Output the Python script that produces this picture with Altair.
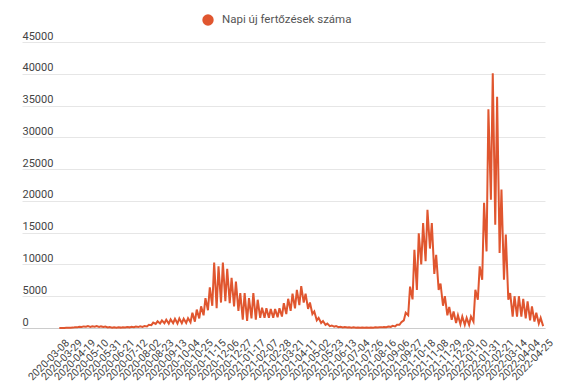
import altair as alt
import pandas as pd

START = "2020-03-08"
END = "2022-04-25"
SERIES = "Napi új fertőzések száma"
LINE_COLOR = "#e0562f"

# Weekly high / low of the daily counts (week k starts START + 7k)
weekly_high = [
    10, 30, 50, 100, 180, 250, 300, 280, 300, 250,
    220, 150, 120, 100, 120, 150, 180, 220, 280, 320,
    500, 850, 1050, 1200, 1300, 1350, 1450, 1500, 1450, 1550,
    2400, 2900, 3400, 4700, 6400, 10300, 9700, 10300, 9300, 7900,
    7300, 5500, 5500, 4700, 5500, 4450, 3200, 3100, 3000, 3000,
    3100, 3900, 4600, 5400, 6000, 6600, 5400, 4000, 2600, 1600,
    1100, 700, 400, 300, 200, 150, 120, 100, 80, 70,
    70, 80, 100, 130, 170, 230, 350, 500, 900, 2400,
    6500, 12300, 14900, 16500, 18600, 16500, 11500, 7000, 5000, 3300,
    2600, 2000, 1800, 1600, 1800, 6000, 9700, 19700, 34400, 40100,
    36400, 21800, 14700, 5500, 5000, 5000, 4600, 4200, 3400, 2400,
    1600,
]
weekly_low = [
    0, 10, 30, 60, 100, 150, 200, 180, 200, 150,
    150, 80, 60, 50, 60, 80, 100, 120, 150, 180,
    250, 450, 650, 700, 750, 700, 750, 700, 750, 800,
    900, 1000, 1500, 2000, 2800, 3500, 3100, 4000, 4200, 3900,
    3400, 2700, 1300, 1100, 1500, 1300, 1600, 1600, 1600, 1600,
    1700, 1800, 2200, 2700, 3100, 3600, 4000, 3000, 2200, 1200,
    800, 500, 300, 200, 120, 90, 70, 50, 40, 30,
    30, 40, 50, 70, 100, 130, 180, 250, 500, 1200,
    2000, 4500, 6000, 10000, 10500, 12500, 8500, 6000, 3500, 2000,
    1300, 800, 600, 500, 500, 1000, 4450, 7600, 12050, 20200,
    16250, 11800, 7600, 4450, 1800, 1800, 1800, 1500, 1200, 1000,
    700, 300,
]

tick_labels = [
    "2020-03-08", "2020-03-29", "2020-04-19", "2020-05-10", "2020-05-31",
    "2020-06-21", "2020-07-12", "2020-08-02", "2020-08-23", "2020-09-13",
    "2020-10-04", "2020-10-25", "2020-11-15", "2020-12-06", "2020-12-27",
    "2021-01-17", "2021-02-07", "2021-02-28", "2021-03-21", "2021-04-11",
    "2021-05-02", "2021-05-23", "2021-06-13", "2021-07-04", "2021-07-26",
    "2021-08-16", "2021-09-06", "2021-09-27", "2021-10-18", "2021-11-08",
    "2021-11-29", "2021-12-20", "2022-01-10", "2022-01-31", "2022-02-21",
    "2022-03-14", "2022-04-04", "2022-04-25",
]
y_ticks = [0, 5000, 10000, 15000, 20000, 25000, 30000, 35000, 40000, 45000]

start = pd.Timestamp(START)
end = pd.Timestamp(END)
rows = [{"date": start, "value": weekly_low[0], "series": SERIES}]
for k in range(len(weekly_low)):
    d_lo = start + pd.Timedelta(days=7 * k + 1)
    if d_lo <= end:
        rows.append({"date": d_lo, "value": weekly_low[k], "series": SERIES})
    if k < len(weekly_high):
        d_hi = start + pd.Timedelta(days=7 * k + 4)
        if d_hi <= end:
            rows.append({"date": d_hi, "value": weekly_high[k], "series": SERIES})
df = pd.DataFrame(rows)


def dt(s):
    t = pd.Timestamp(s)
    return alt.DateTime(year=t.year, month=t.month, date=t.day)


x_domain = [dt("2020-01-08"), dt("2022-04-28")]

chart = (
    alt.Chart(df)
    .mark_line(strokeWidth=2, interpolate="linear")
    .encode(
        x=alt.X(
            "date:T",
            scale=alt.Scale(domain=x_domain),
            axis=alt.Axis(
                values=[dt(s) for s in tick_labels],
                format="%Y-%m-%d",
                labelAngle=-45,
                labelAlign="right",
                labelBaseline="middle",
                labelFont="Roboto",
                labelFontSize=10.5,
                labelColor="#444444",
                labelPadding=13,
                labelOffset=8,
                ticks=False,
                tickSize=0,
                grid=False,
                domain=True,
                domainColor="#cccccc",
                domainWidth=1,
                title=None,
                labelOverlap=False,
            ),
        ),
        y=alt.Y(
            "value:Q",
            scale=alt.Scale(domain=[0, 45000], nice=False),
            axis=alt.Axis(
                values=y_ticks,
                format="d",
                labelAlign="left",
                labelBaseline="bottom",
                labelPadding=0,
                labelOffset=-1,
                ticks=False,
                tickSize=0,
                domain=False,
                grid=True,
                gridColor="#e6e6e6",
                labelFont="Roboto",
                labelFontSize=11,
                labelColor="#444444",
                title=None,
            ),
        ),
        color=alt.Color(
            "series:N",
            scale=alt.Scale(range=[LINE_COLOR]),
            legend=alt.Legend(
                orient="none",
                legendX=180,
                legendY=-28,
                title=None,
                symbolType="circle",
                symbolSize=130,
                symbolFillColor=LINE_COLOR,
                symbolStrokeWidth=0,
                labelFont="Roboto",
                labelFontSize=11.5,
                labelColor="#555555",
                labelOffset=8,
            ),
        ),
    )
    .properties(
        width=523,
        height=286,
        autosize=alt.AutoSizeParams(type="none"),
        padding={"left": 14, "top": 34, "right": 20, "bottom": 58},
    )
    .configure_view(stroke=None)
)

chart.save("out.html", embed_options={"renderer": "svg", "actions": False})
